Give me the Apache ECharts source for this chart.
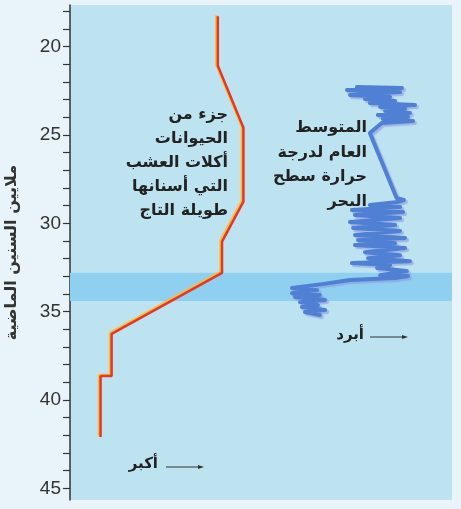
<!DOCTYPE html>
<html>
<head>
<meta charset="utf-8">
<script src="https://cdn.jsdelivr.net/npm/echarts@6/dist/echarts.min.js"></script>
<style>
  html, body { margin: 0; padding: 0; background: #e8f4f9; }
  #main { width: 461px; height: 509px; }
</style>
</head>
<body>
<div id="main"></div>
<script>
// y = millions of years ago, x = relative position (0-100, hidden axis)
const yTicks = [18,19,20,21,22,23,24,25,26,27,28,29,30,31,32,33,34,35,36,37,38,39,40,41,42,43,44,45];
const yLabels = [20, 25, 30, 35, 40, 45];
const coldBand = [32.8, 34.4];

// grazers with high-crowned teeth (red)
const grazerX = [38.7, 38.7, 45.4, 45.4, 39.8, 39.8, 10.9, 10.9, 8.0, 8.0];
const grazerY = [18.28, 21.08, 24.59, 28.77, 31.03, 32.8, 36.26, 38.64, 38.64, 42.1];

// mean sea surface temperature (blue)
const sstX = [75.1, 86.9, 72.5, 86.4, 73.3, 83.8, 77.2, 85.1, 78.5, 90.3, 81.2, 87.7, 82.5, 89.0,
  80.6, 88.5, 81.9, 89.8, 81.6, 78.5, 85.5, 87.4, 85.9, 78.5, 86.4, 73.8, 87.2, 74.6, 86.4, 73.3,
  85.1, 74.1, 86.4, 74.6, 87.7, 75.4, 85.1, 74.6, 87.7, 77.2, 86.4, 78.0, 89.0, 73.8, 83.8, 80.4,
  88.2, 81.2, 88.5, 85.1, 73.3, 66.0, 58.1, 64.7, 58.1, 65.4, 58.9, 66.8, 60.2, 64.9, 60.7, 66.8,
  61.5, 65.4];
const sstY = [22.28, 22.34, 22.45, 22.57, 22.74, 22.85, 22.96, 23.07, 23.19, 23.30, 23.41, 23.53, 23.64, 23.75,
  23.87, 23.98, 24.09, 24.21, 24.32, 24.89, 28.57, 28.68, 28.79, 28.96, 29.08, 29.25, 29.36, 29.53, 29.70, 29.93,
  30.10, 30.26, 30.43, 30.66, 30.83, 30.95, 31.12, 31.23, 31.40, 31.63, 31.80, 31.97, 32.14, 32.25, 32.36, 32.53,
  32.70, 32.93, 32.98, 33.10, 33.21, 33.44, 33.66, 33.78, 33.95, 34.06, 34.17, 34.34, 34.46, 34.63, 34.74, 34.91,
  35.02, 35.19];

const grazerText = 'جزء من\nالحيوانات\nأكلات العشب\nالتي أسنانها\nطويلة التاج';
const sstText = 'المتوسط\nالعام لدرجة\nحرارة سطح\nالبحر';
const axisName = 'ملايين السنين الماضية';

const zip = (xs, ys) => xs.map((x, i) => [x, ys[i]]);
const font = 'DejaVu Sans';

const chart = echarts.init(document.getElementById('main'));
chart.setOption({
  animation: false,
  backgroundColor: '#e8f4f9',
  grid: { left: 70, right: 9, top: 5, bottom: 9, outerBoundsMode: 'none', containLabel: false,
    show: true, backgroundColor: '#bde3f1', borderWidth: 0 },
  xAxis: { type: 'value', min: 0, max: 100, show: false },
  yAxis: {
    type: 'value', inverse: true, min: 17.64, max: 45.66,
    name: axisName, nameLocation: 'middle', nameRotate: 90, nameGap: 50,
    nameTextStyle: { fontFamily: font, fontSize: 16, fontWeight: 'bold', color: '#333' },
    axisLine: { show: true, lineStyle: { color: '#333', width: 1.5 } },
    axisTick: { show: true, length: 7, customValues: yTicks, lineStyle: { color: '#333', width: 1.2 } },
    axisLabel: { customValues: yLabels, fontFamily: 'Liberation Sans', fontSize: 19, color: '#333', margin: 9 },
    splitLine: { show: false }
  },
  series: [
    {
      type: 'line', data: [], z: 1,
      markArea: { silent: true, itemStyle: { color: '#8fcff0' }, data: [[{ yAxis: coldBand[0] }, { yAxis: coldBand[1] }]] }
    },
    {
      type: 'line', data: zip(grazerX, grazerY), symbol: 'none', z: 3,
      lineStyle: { color: '#e8352a', width: 2.5, shadowColor: 'rgba(250,190,40,0.95)', shadowOffsetX: -1.5, shadowOffsetY: -1, shadowBlur: 0 }
    },
    {
      type: 'line', data: zip(sstX, sstY), symbol: 'none', z: 3,
      lineStyle: { color: '#4f80d3', width: 4, join: 'round', cap: 'round', shadowColor: 'rgba(140,150,225,0.6)', shadowOffsetX: 2, shadowOffsetY: 2, shadowBlur: 1 }
    }
  ],
  graphic: [
    { type: 'text', x: 228, y: 103, style: { text: grazerText, align: 'right', verticalAlign: 'top', lineHeight: 24, font: 'bold 16px "DejaVu Sans"', fill: '#222' } },
    { type: 'text', x: 367, y: 116, style: { text: sstText, align: 'right', verticalAlign: 'top', lineHeight: 24.5, font: 'bold 16px "DejaVu Sans"', fill: '#222' } },
    { type: 'text', x: 158, y: 464, style: { text: 'أكبر', align: 'right', verticalAlign: 'middle', font: 'bold 15px "DejaVu Sans"', fill: '#222' } },
    { type: 'line', shape: { x1: 166, y1: 467, x2: 200, y2: 467 }, style: { stroke: '#333', lineWidth: 1 } },
    { type: 'polygon', shape: { points: [[204, 467], [198, 465], [198, 469]] }, style: { fill: '#333' } },
    { type: 'text', x: 364, y: 335, style: { text: 'أبرد', align: 'right', verticalAlign: 'middle', font: 'bold 15px "DejaVu Sans"', fill: '#222' } },
    { type: 'line', shape: { x1: 370, y1: 337, x2: 404, y2: 337 }, style: { stroke: '#333', lineWidth: 1 } },
    { type: 'polygon', shape: { points: [[408, 337], [402, 335], [402, 339]] }, style: { fill: '#333' } }
  ]
});
</script>
</body>
</html>
